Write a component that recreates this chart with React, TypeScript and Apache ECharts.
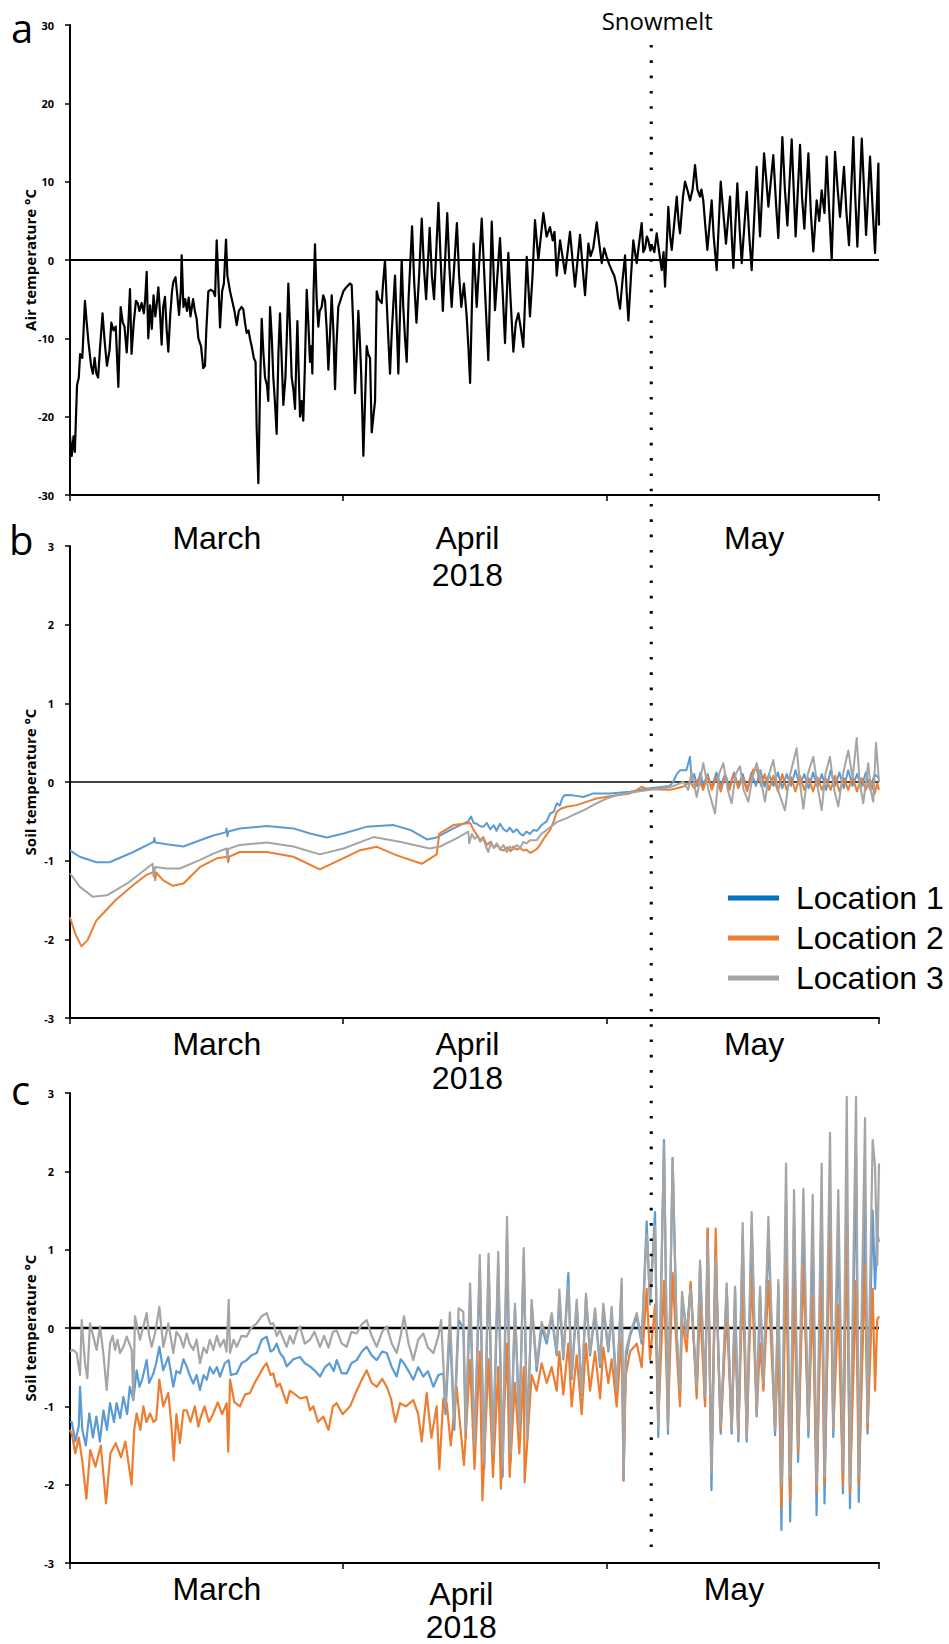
import React, { useEffect, useRef } from "react";
import * as echarts from "echarts";

// ---------- axis / label data ----------
const DAY_MIN = 0;
const DAY_MAX = 92; // 1 March .. 1 June 2018 (days since 1 March)
const MONTH_TICKS = [0, 31, 61, 92];
const MONTH_LABELS = ["March", "April\n2018", "May"];
const MONTH_LABEL_POS_AB = [16.7, 45.2, 77.8];
const MONTH_LABEL_POS_C = [16.7, 44.5, 75.5];
const SNOWMELT_DAY = 66.1;
const AIR_RANGE = [-30, 30, 10];
const SOIL_RANGE = [-3, 3, 1];
const LOCATIONS = ["Location 1", "Location 2", "Location 3"];
const LOC_COLORS = ["#5B9BD5", "#ED7D31", "#A5A5A5"];
const LEGEND_COLORS = ["#0070C0", "#ED7D31", "#A5A5A5"];

// ---------- panel a: air temperature [day, °C] ----------
const AIR_TEMP: [number, number][] = [
[0.0,-22.5],[0.2,-25.0],[0.4,-22.5],[0.55,-24.5],[0.8,-16],[1.0,-15],[1.15,-12],[1.4,-12.5],[1.7,-5.2],[1.9,-8],[2.1,-10.5],[2.4,-13.5],[2.6,-14.5],[2.8,-12.5],[3.0,-14.5],[3.2,-15],[3.4,-11.5],[3.7,-6.8],[3.95,-10.5],[4.2,-13.5],[4.5,-11.5],[4.7,-8],[4.95,-9],[5.2,-8.5],[5.5,-16.2],[5.76,-6],[6.0,-8],[6.2,-8.5],[6.45,-11.8],[6.6,-9],[6.82,-3.7],[7.0,-12],[7.25,-8],[7.5,-5.2],[7.7,-5.5],[7.9,-6.5],[8.15,-5.5],[8.4,-6.8],[8.55,-5],[8.72,-1.5],[8.9,-10],[9.1,-5.8],[9.3,-8.8],[9.5,-4.5],[9.7,-7.2],[9.85,-5.8],[10.05,-3.5],[10.25,-7],[10.42,-10.8],[10.6,-6],[10.8,-4.7],[11.0,-9],[11.18,-11.7],[11.4,-7],[11.6,-4],[11.75,-2.8],[12.0,-2.2],[12.2,-4.5],[12.4,-7],[12.6,-4],[12.7,0.6],[12.9,-6],[13.1,-5],[13.3,-6.5],[13.5,-4.8],[13.7,-7.2],[14.0,-5],[14.2,-6.5],[14.4,-7.5],[14.6,-10],[14.9,-11],[15.15,-13.8],[15.35,-13.5],[15.5,-9],[15.73,-4],[16.0,-3.8],[16.3,-4],[16.5,-4.6],[16.68,2.5],[16.85,-2],[17.06,-8.6],[17.3,-4],[17.5,-3],[17.74,2.6],[17.9,-2],[18.2,-4],[18.5,-5.5],[18.7,-6.5],[18.96,-8.3],[19.2,-6.5],[19.5,-6],[19.71,-6.3],[19.9,-8],[20.09,-9.3],[20.3,-9],[20.5,-10.2],[20.66,-11],[20.9,-12.5],[21.1,-13],[21.23,-21.5],[21.42,-28.5],[21.6,-17],[21.8,-7.5],[22.0,-12],[22.18,-15],[22.4,-16],[22.55,-18],[22.75,-6],[22.95,-10],[23.12,-15],[23.3,-18],[23.5,-22.2],[23.7,-12],[23.88,-6.8],[24.05,-12],[24.26,-18.5],[24.5,-15],[24.65,-10],[24.83,-3],[25.0,-8],[25.21,-15],[25.4,-16.5],[25.59,-19],[25.75,-12],[25.86,-7.8],[26.0,-14],[26.16,-20],[26.35,-18],[26.53,-20.5],[26.7,-14],[26.92,-3.8],[27.1,-8],[27.29,-13],[27.45,-11],[27.56,-14.5],[27.7,-4],[27.86,2.0],[28.05,-5],[28.24,-8.5],[28.4,-6.5],[28.62,-6],[28.8,-4.5],[29.0,-5.2],[29.2,-9],[29.38,-14],[29.55,-10],[29.76,-4.5],[29.95,-9],[30.14,-16.5],[30.3,-11],[30.51,-6],[30.8,-5],[31.08,-4],[31.4,-3.5],[31.84,-3],[32.03,-3.2],[32.2,-8],[32.41,-17],[32.6,-12],[32.79,-6.5],[32.95,-10],[33.1,-14],[33.25,-20],[33.36,-25],[33.5,-20],[33.74,-11],[33.9,-12],[34.12,-12.5],[34.31,-22],[34.5,-20],[34.69,-18],[34.88,-4],[35.1,-5],[35.45,-5.5],[35.6,-3],[35.82,0],[36.0,-5],[36.2,-10],[36.39,-14.5],[36.6,-9],[36.96,-2],[37.15,-8],[37.34,-14.5],[37.5,-8],[37.72,0],[37.9,-6],[38.1,-10],[38.29,-13],[38.5,-5],[38.9,4.3],[39.15,-3],[39.4,-8],[39.7,-2],[40.0,5.3],[40.25,-1],[40.5,-5],[40.9,4.1],[41.15,-2],[41.4,-5],[41.9,7.3],[42.15,0],[42.4,-6.5],[42.9,6.0],[43.15,-1],[43.4,-6],[44.0,4.7],[44.25,-2],[44.5,-6],[44.8,-3],[45.1,-7],[45.3,-11],[45.5,-15.7],[45.7,-6],[45.9,2.1],[46.25,-6],[46.82,5.3],[47.2,-4],[47.57,-12.8],[47.96,4.9],[48.33,-6.4],[48.9,2.8],[49.2,-4],[49.47,-10.6],[49.85,0.9],[50.1,-5],[50.42,-11.7],[50.7,-8],[50.99,-6.8],[51.3,-9],[51.55,-11.1],[51.94,0.4],[52.31,-7.2],[52.6,-2],[52.88,5.1],[53.26,0],[53.5,2.5],[53.83,6.0],[54.2,3],[54.59,4.2],[54.9,2.5],[55.1,3.6],[55.35,-2],[55.73,2.5],[56.0,0.5],[56.3,-1.7],[56.86,3.6],[57.15,0],[57.43,-3.4],[58.0,3.2],[58.3,-1],[58.57,-4.5],[58.95,2.1],[59.2,0.5],[59.5,1.5],[59.9,4.8],[60.2,2],[60.47,-0.4],[60.75,1.5],[61.03,0.4],[61.3,-0.5],[61.6,-1.3],[61.9,-2],[62.17,-3.4],[62.35,-5],[62.55,-6.2],[62.8,-3],[63.12,0.6],[63.3,-4],[63.5,-7.7],[63.8,-2],[64.06,2.5],[64.25,1],[64.45,-0.4],[64.7,2],[65.01,4.7],[65.2,1],[65.4,1.5],[65.6,3],[65.77,2.5],[66.0,1.2],[66.2,1.8],[66.45,1],[66.72,3.4],[67.0,1],[67.29,-1.3],[67.5,1],[67.67,-3.4],[68.04,6.8],[68.25,3],[68.43,1.3],[69.0,8.1],[69.2,5],[69.37,3.4],[69.7,8],[69.94,10.0],[70.2,9],[70.51,7.6],[70.8,9],[71.08,12.1],[71.35,9],[71.65,8.1],[71.8,9],[72.02,7.6],[72.2,5],[72.48,1.3],[72.97,7.6],[73.2,3],[73.54,-1.3],[74.0,10.0],[74.3,6],[74.6,2.1],[75.06,8.1],[75.25,3],[75.44,-1.0],[75.89,9.8],[76.15,4],[76.39,-0.4],[76.96,8.7],[77.25,3],[77.52,-1.3],[78.09,11.9],[78.47,3.0],[78.93,13.6],[79.2,10],[79.42,6.8],[79.98,13.4],[80.3,7],[80.55,2.8],[81.01,15.7],[81.3,9],[81.58,4.4],[82.07,15.4],[82.3,9],[82.52,3.0],[83.02,14.7],[83.25,8],[83.51,4.0],[83.97,13.6],[84.25,6],[84.53,1.1],[84.91,7.6],[85.2,5],[85.48,8.9],[85.8,6],[86.05,13.2],[86.35,6],[86.62,0.0],[87.0,13.8],[87.3,9],[87.57,5.5],[88.02,11.9],[88.3,6],[88.59,1.9],[89.08,15.7],[89.3,8],[89.54,1.7],[90.04,15.5],[90.3,9],[90.53,3.2],[90.98,13.2],[91.3,6],[91.55,0.9],[91.93,12.3],[92.0,4.4]
];

// ---------- panel b: soil temperature (deeper) [day, °C] ----------
const SOIL_B_L1: [number, number][] = [
[0,-0.87],[1.1,-0.95],[3.0,-1.02],[4.5,-1.02],[7.2,-0.89],[9.5,-0.76],[9.6,-0.71],[9.7,-0.77],[11,-0.79],[12.9,-0.82],[14.8,-0.74],[16.3,-0.68],[17.7,-0.64],[17.8,-0.59],[17.9,-0.69],[18.0,-0.63],[19.3,-0.59],[22.4,-0.56],[25.4,-0.59],[27.3,-0.655],[29.2,-0.705],[31.1,-0.655],[33.7,-0.57],[36.8,-0.548],[38.7,-0.61],[40.6,-0.73],[41.7,-0.705],[43.6,-0.59],[45.3,-0.5],[45.6,-0.44],[45.9,-0.52],[46.25,-0.53],[46.6,-0.56],[47.0,-0.57],[47.4,-0.52],[47.8,-0.6],[48.2,-0.55],[48.5,-0.62],[48.9,-0.53],[49.3,-0.6],[49.66,-0.63],[50.0,-0.58],[50.4,-0.64],[50.8,-0.6],[51.2,-0.66],[51.55,-0.68],[51.9,-0.63],[52.3,-0.66],[52.7,-0.61],[53.1,-0.62],[53.6,-0.55],[54.2,-0.5],[54.6,-0.4],[55.0,-0.38],[55.35,-0.27],[55.7,-0.3],[56.0,-0.2],[56.3,-0.166],[57.2,-0.17],[58.4,-0.19],[59.5,-0.145],[61.4,-0.145],[63.7,-0.123],[66.0,-0.08],[68.2,-0.05],[68.6,0.0],[69.0,0.1],[69.4,0.15],[70.1,0.15],[70.5,0.32],[70.7,0.03],[71.0,0.1],[71.3,-0.05],[71.7,0.12],[72.0,-0.05],[72.5,0.1],[73.0,-0.08],[73.5,0.12],[74.0,-0.05],[74.5,0.1],[75.0,-0.06],[75.5,0.12],[76.0,-0.05],[76.5,0.1],[77.0,-0.1],[77.5,0.12],[78.0,-0.05],[78.5,0.15],[79.0,-0.06],[79.5,0.1],[80.0,-0.05],[80.5,0.12],[81.0,-0.08],[81.5,0.1],[82.0,-0.05],[82.5,0.15],[83.0,-0.04],[83.5,0.1],[84.0,-0.08],[84.5,0.12],[85.0,-0.06],[85.5,0.1],[86.0,-0.1],[86.5,0.15],[87.0,-0.05],[87.5,0.12],[88.0,-0.08],[88.5,0.15],[89.0,-0.05],[89.5,0.1],[90.0,-0.06],[90.5,0.12],[91.0,-0.1],[91.5,0.1],[92.0,0.05]
];
const SOIL_B_L2: [number, number][] = [
[0,-1.72],[0.6,-1.93],[1.3,-2.09],[2.0,-2.01],[3.0,-1.76],[5.2,-1.5],[7.2,-1.31],[8.7,-1.18],[9.6,-1.14],[9.7,-1.25],[9.8,-1.15],[10.6,-1.25],[11.7,-1.32],[12.9,-1.29],[14.8,-1.08],[16.7,-0.97],[17.9,-0.95],[18.0,-1.02],[18.1,-0.95],[19.3,-0.89],[22.4,-0.89],[25.4,-0.95],[28.4,-1.11],[30.7,-0.99],[33.0,-0.867],[34.9,-0.824],[37.1,-0.93],[40.0,-1.04],[41.7,-0.92],[42.0,-0.655],[43.6,-0.548],[45.5,-0.52],[45.9,-0.61],[46.2,-0.66],[46.6,-0.74],[47.0,-0.7],[47.4,-0.8],[47.8,-0.76],[48.2,-0.84],[48.6,-0.8],[49.0,-0.86],[49.3,-0.87],[49.7,-0.83],[50.1,-0.88],[50.4,-0.82],[50.8,-0.86],[51.2,-0.84],[51.55,-0.87],[51.9,-0.86],[52.3,-0.9],[52.7,-0.88],[53.1,-0.85],[53.45,-0.8],[54.0,-0.7],[54.6,-0.61],[55.0,-0.5],[55.35,-0.38],[55.8,-0.34],[56.5,-0.315],[57.6,-0.294],[58.8,-0.25],[59.9,-0.21],[61.4,-0.18],[63.7,-0.145],[64.5,-0.1],[65.0,-0.06],[65.4,-0.08],[66.0,-0.093],[68.2,-0.1],[69.7,-0.06],[70.5,0],[71.0,-0.08],[71.5,0.05],[72.0,-0.1],[72.5,0.08],[73.0,-0.1],[73.5,0.06],[74.0,-0.12],[74.5,0.08],[75.0,-0.1],[75.5,0.1],[76.0,-0.08],[76.5,0.06],[77.0,-0.12],[77.7,0.16],[78.1,0.16],[78.6,-0.05],[79.0,0.1],[79.5,-0.1],[80.0,0.08],[80.5,-0.12],[81.0,0.1],[81.5,-0.1],[82.0,0.06],[82.5,-0.12],[83.0,0.08],[83.5,-0.1],[84.0,0.05],[84.5,-0.12],[85.0,0.06],[85.5,-0.1],[86.0,0.04],[86.5,-0.1],[87.0,0.08],[87.5,-0.12],[88.0,0.05],[88.5,-0.1],[89.0,0.06],[89.5,-0.12],[90.0,0.05],[90.5,-0.1],[91.0,0.03],[91.5,-0.15],[91.8,-0.02],[92.0,-0.1]
];
const SOIL_B_L3: [number, number][] = [
[0,-1.16],[1.1,-1.33],[2.6,-1.46],[4.2,-1.44],[6.5,-1.29],[8.0,-1.16],[9.4,-1.04],[9.5,-1.2],[9.7,-1.08],[11.0,-1.1],[12.5,-1.1],[14.8,-0.99],[16.3,-0.91],[17.8,-0.845],[17.9,-0.98],[18.0,-0.85],[19.3,-0.8],[22.4,-0.77],[25.4,-0.82],[28.4,-0.92],[31.1,-0.845],[34.5,-0.7],[37.5,-0.76],[40.9,-0.845],[42.1,-0.82],[43.9,-0.72],[45.3,-0.63],[45.4,-0.78],[45.7,-0.66],[46.0,-0.72],[46.4,-0.68],[46.63,-0.76],[47.0,-0.72],[47.3,-0.82],[47.57,-0.89],[47.9,-0.76],[48.2,-0.84],[48.52,-0.78],[48.9,-0.86],[49.3,-0.8],[49.66,-0.89],[50.0,-0.82],[50.4,-0.86],[50.8,-0.8],[51.2,-0.84],[51.55,-0.76],[51.93,-0.78],[52.3,-0.74],[53.07,-0.74],[53.6,-0.66],[54.21,-0.61],[55.35,-0.51],[56.48,-0.46],[57.62,-0.4],[58.76,-0.34],[59.9,-0.27],[61.03,-0.21],[62.17,-0.166],[63.68,-0.136],[65.96,-0.1],[68.23,-0.068],[69.75,0],[70.3,-0.1],[70.7,0.12],[71.27,-0.19],[72.02,0.24],[72.6,-0.1],[73.35,-0.4],[73.8,0.1],[74.3,0.24],[74.8,-0.1],[75.24,-0.27],[75.7,0.1],[76.19,0.2],[76.6,-0.1],[77.14,-0.25],[77.6,0.05],[78.09,0.24],[78.6,0],[79.03,-0.25],[79.5,0.1],[79.98,0.28],[80.5,-0.1],[81.3,-0.36],[81.8,0.05],[82.63,0.43],[83.0,0.0],[83.39,-0.34],[83.9,0.1],[84.53,0.32],[85.0,-0.05],[85.48,-0.36],[85.9,0.1],[86.42,0.32],[86.9,-0.1],[87.37,-0.31],[87.9,0.1],[88.51,0.4],[89.0,0.05],[89.46,0.56],[89.8,0.0],[90.21,-0.27],[90.78,0.24],[91.05,-0.1],[91.35,-0.25],[91.66,0.5],[92.0,0.0]
];

// ---------- panel c: soil temperature (surface) [day, °C] ----------
const SOIL_C_L1: [number, number][] = [
[0.0,-1.2],[0.2,-1.2],[0.6,-1.45],[1.0,-1.25],[1.14,-0.75],[1.4,-1.3],[1.8,-1.5],[2.2,-1.09],[2.6,-1.4],[3.0,-1.13],[3.4,-1.45],[3.8,-1.05],[4.2,-1.3],[4.55,-0.96],[5.0,-1.2],[5.3,-0.96],[5.7,-1.15],[6.07,-0.88],[6.5,-1.1],[6.8,-0.75],[7.2,-0.92],[7.58,-0.54],[7.9,-0.75],[8.2,-0.66],[8.72,-0.41],[9.0,-0.7],[9.48,-0.58],[9.8,-0.45],[10.16,-0.24],[10.6,-0.54],[11.18,-0.37],[11.75,-0.75],[12.1,-0.55],[12.51,-0.58],[12.9,-0.4],[13.27,-0.49],[13.6,-0.6],[14.02,-0.71],[14.4,-0.6],[14.78,-0.79],[15.2,-0.6],[15.55,-0.66],[15.9,-0.5],[16.3,-0.58],[16.7,-0.5],[17.06,-0.62],[17.6,-0.45],[18.05,-0.41],[18.3,-0.6],[18.96,-0.58],[19.5,-0.45],[20.09,-0.41],[20.6,-0.35],[21.23,-0.32],[21.8,-0.15],[22.37,-0.11],[22.8,-0.3],[23.12,-0.28],[23.5,-0.2],[23.88,-0.32],[24.3,-0.38],[24.64,-0.49],[25.4,-0.4],[26.16,-0.37],[26.7,-0.45],[27.29,-0.49],[27.9,-0.55],[28.43,-0.62],[29.0,-0.5],[29.5,-0.45],[30.0,-0.55],[30.33,-0.41],[30.9,-0.58],[31.47,-0.58],[32.0,-0.45],[32.6,-0.41],[33.2,-0.3],[33.74,-0.24],[34.3,-0.35],[34.88,-0.41],[35.5,-0.3],[36.02,-0.32],[36.6,-0.5],[37.15,-0.62],[37.6,-0.4],[37.98,-0.45],[38.5,-0.55],[39.04,-0.66],[39.6,-0.5],[40.18,-0.62],[40.7,-0.55],[41.32,-0.75],[41.9,-0.6],[42.46,-0.58],[42.7,-1.1],[43.2,0.0],[43.7,-1.3],[44.2,0.1],[44.73,0.0],[45.0,-1.4],[45.5,0.4],[46.0,-1.6],[46.6,0.75],[47.1,-1.8],[47.6,0.8],[48.1,-1.7],[48.7,0.8],[49.2,-1.9],[49.7,1.2],[50.1,-1.7],[50.6,0.25],[51.1,-1.2],[51.6,0.9],[52.0,-1.4],[52.5,0.3],[53.07,-0.55],[53.64,0.0],[54.21,-0.2],[54.78,0.15],[55.35,-0.35],[55.65,0.4],[56.1,-0.4],[56.67,0.7],[57.05,-0.65],[57.62,0.3],[58.19,-0.85],[58.68,0.4],[59.14,-0.35],[59.71,0.2],[60.28,-0.5],[60.65,0.25],[61.22,-0.3],[61.6,0.2],[62.17,-0.85],[62.74,0.55],[62.95,-1.95],[63.2,-0.4],[63.69,-0.1],[64.45,0.15],[65.01,-0.2],[65.58,1.36],[65.96,0.3],[66.53,1.48],[66.9,-1.39],[67.55,2.4],[68.0,-1.35],[68.53,2.17],[69.0,-0.1],[69.37,-0.85],[69.6,0.4],[70.13,-0.1],[70.58,0.55],[71.27,-0.8],[71.65,0.8],[72.22,-0.95],[72.52,1.27],[72.95,-2.07],[73.43,1.0],[73.73,-0.3],[74.0,-1.35],[74.68,0.5],[75.25,-1.35],[75.63,0.5],[76.0,-1.45],[76.5,1.2],[76.96,-1.45],[77.52,1.3],[78.09,-1.13],[78.47,0.45],[78.85,-0.75],[79.42,1.2],[80.18,-1.37],[80.55,0.55],[80.9,-2.58],[81.43,1.6],[81.9,-2.47],[82.34,1.3],[82.8,-1.71],[83.4,1.2],[83.97,-1.39],[84.46,1.3],[84.9,-2.39],[85.48,1.7],[85.8,-2.24],[86.43,1.6],[86.8,-1.39],[87.37,1.2],[87.9,-2.11],[88.33,1.8],[88.7,-2.3],[89.39,2.2],[89.7,-2.22],[90.41,1.6],[90.7,-1.35],[91.28,1.5],[91.55,0.5],[91.8,1.2],[92.0,1.1]
];
const SOIL_C_L2: [number, number][] = [
[0.0,-1.3],[0.2,-1.35],[0.6,-1.6],[1.0,-1.4],[1.4,-1.7],[1.86,-2.18],[2.3,-1.56],[2.9,-1.77],[3.5,-1.5],[4.1,-2.24],[4.6,-1.6],[5.2,-1.47],[5.8,-1.65],[6.3,-1.45],[7.0,-2.0],[7.3,-1.3],[7.58,-1.09],[8.0,-1.3],[8.34,-1.0],[8.7,-1.2],[9.1,-1.09],[9.5,-1.2],[9.8,-1.17],[10.16,-0.66],[10.6,-1.0],[11.18,-0.83],[11.5,-1.2],[11.8,-1.69],[12.1,-1.1],[12.5,-1.47],[12.9,-1.05],[13.27,-1.05],[13.7,-1.2],[14.2,-1.0],[14.6,-1.26],[14.78,-1.17],[15.3,-1.0],[15.8,-1.2],[16.3,-1.09],[16.8,-0.95],[17.3,-1.1],[17.82,-0.96],[18.0,-1.58],[18.2,-0.66],[18.7,-0.95],[19.33,-1.0],[19.9,-0.85],[20.47,-0.83],[21.0,-0.7],[21.61,-0.58],[22.0,-0.5],[22.37,-0.45],[22.8,-0.6],[23.12,-0.58],[23.5,-0.75],[23.88,-0.71],[24.3,-0.85],[24.64,-0.96],[25.0,-0.8],[25.4,-0.83],[26.2,-0.9],[26.92,-0.88],[27.3,-1.05],[27.67,-1.0],[28.2,-1.2],[28.81,-1.13],[29.4,-1.3],[29.9,-1.0],[30.33,-0.96],[31.0,-1.1],[31.85,-1.0],[32.6,-0.8],[33.36,-0.62],[33.74,-0.54],[34.3,-0.7],[34.88,-0.75],[35.5,-0.65],[36.02,-0.75],[36.5,-0.9],[37.0,-1.2],[37.53,-0.96],[38.2,-1.0],[39.04,-0.92],[39.6,-1.1],[40.0,-1.45],[40.56,-0.83],[41.1,-1.4],[41.7,-1.0],[42.0,-1.8],[42.46,-0.9],[42.84,-0.96],[43.3,-1.5],[43.97,-0.75],[44.5,-1.4],[44.8,-1.75],[45.5,-0.41],[46.0,-1.8],[46.6,-0.3],[46.9,-2.2],[47.6,-0.4],[48.1,-1.9],[48.7,-0.5],[49.0,-2.05],[49.7,-0.2],[50.0,-1.9],[50.6,-0.7],[51.1,-1.6],[51.6,-0.5],[51.7,-1.97],[52.5,-0.6],[53.07,-0.8],[53.64,-0.45],[54.21,-0.7],[54.78,-0.5],[55.35,-0.8],[55.65,-0.3],[56.1,-0.85],[56.67,-0.2],[57.05,-1.0],[57.62,-0.35],[58.19,-1.1],[58.68,-0.2],[59.14,-0.8],[59.71,-0.3],[60.28,-0.9],[60.65,-0.25],[61.22,-0.7],[61.6,-0.4],[62.17,-1.0],[62.74,-0.1],[62.95,-1.94],[63.2,-0.6],[63.69,-0.3],[64.45,-0.2],[65.01,-0.5],[65.58,0.5],[65.96,-0.4],[66.53,0.3],[66.9,-1.2],[67.55,0.6],[68.0,-1.2],[68.53,0.7],[69.0,-0.3],[69.37,-1.0],[69.6,0.1],[70.13,-0.3],[70.58,0.59],[71.27,-0.9],[71.65,0.3],[72.22,-1.0],[72.52,1.27],[72.95,-1.8],[73.43,1.27],[73.73,-0.4],[74.0,-1.3],[74.68,0.2],[75.25,-1.3],[75.63,0.1],[76.0,-1.4],[76.5,0.6],[76.96,-1.4],[77.52,0.7],[78.09,-1.1],[78.47,-0.2],[78.85,-0.8],[79.42,0.6],[80.18,-1.3],[80.55,-0.2],[80.9,-2.3],[81.43,0.9],[81.9,-2.2],[82.34,0.5],[82.8,-1.6],[83.4,0.8],[83.97,-1.3],[84.46,0.4],[84.9,-2.1],[85.48,0.6],[85.8,-2.0],[86.43,1.2],[86.8,-1.3],[87.37,0.3],[87.9,-2.0],[88.33,1.3],[88.7,-2.1],[89.39,0.6],[89.7,-2.0],[90.41,0.8],[90.7,-1.3],[91.28,0.5],[91.55,-0.8],[91.8,0.1],[92.0,0.15]
];
const SOIL_C_L3: [number, number][] = [
[0.0,-0.3],[0.38,-0.28],[0.76,-0.32],[1.14,-0.6],[1.33,0.1],[1.71,-0.45],[1.97,-0.64],[2.27,0.06],[2.65,-0.11],[3.03,-0.28],[3.41,0.02],[3.79,-0.32],[4.17,-0.79],[4.55,-0.2],[4.85,-0.1],[5.12,-0.28],[5.4,-0.15],[5.69,-0.32],[6.07,-0.24],[6.45,-0.11],[6.75,-0.2],[7.01,-0.28],[7.2,-0.9],[7.39,0.15],[7.96,-0.15],[8.3,0.0],[8.72,0.19],[9.0,-0.1],[9.29,-0.24],[9.7,-0.05],[10.16,0.27],[10.61,-0.24],[10.9,-0.1],[11.18,0.06],[11.5,-0.15],[11.75,-0.32],[12.1,-0.05],[12.51,-0.11],[12.9,-0.25],[13.27,-0.07],[13.6,-0.2],[14.02,-0.28],[14.4,-0.15],[14.78,-0.45],[15.2,-0.25],[15.55,-0.32],[15.9,-0.15],[16.3,-0.28],[16.7,-0.1],[17.06,-0.24],[17.5,-0.15],[17.8,-0.3],[18.05,0.36],[18.2,-0.32],[18.6,-0.15],[18.96,-0.24],[19.5,-0.1],[20.09,-0.11],[20.6,0.0],[21.23,0.06],[21.8,0.15],[22.37,0.19],[22.8,0.05],[23.12,0.06],[23.5,-0.1],[23.88,-0.03],[24.3,-0.15],[24.64,-0.24],[25.0,-0.1],[25.4,-0.2],[25.8,-0.05],[26.16,0.02],[26.7,-0.2],[27.29,-0.15],[27.8,-0.05],[28.43,-0.24],[28.9,-0.1],[29.4,-0.25],[29.9,-0.05],[30.33,-0.03],[30.9,-0.2],[31.47,-0.24],[32.0,-0.05],[32.6,-0.07],[33.2,0.05],[33.74,0.1],[34.3,-0.1],[34.88,-0.24],[35.5,-0.05],[36.02,0.02],[36.6,-0.2],[37.15,-0.32],[37.6,-0.1],[37.98,0.15],[38.5,-0.2],[39.04,-0.41],[39.6,-0.15],[40.18,-0.07],[40.7,-0.25],[41.32,-0.32],[41.9,-0.1],[42.2,0.1],[42.7,-1.0],[43.2,0.2],[43.7,-1.2],[44.2,0.25],[44.73,0.21],[45.0,-1.3],[45.5,0.57],[46.0,-1.5],[46.6,0.93],[47.1,-1.7],[47.6,0.95],[48.1,-1.6],[48.7,0.97],[49.2,-1.8],[49.7,1.42],[50.1,-1.6],[50.6,0.31],[51.1,-1.3],[51.6,1.02],[52.0,-1.4],[52.5,0.36],[53.07,-0.49],[53.64,0.08],[54.21,-0.15],[54.78,0.19],[55.35,-0.32],[55.65,0.49],[56.1,-0.37],[56.67,0.55],[57.05,-0.62],[57.62,0.36],[58.19,-0.83],[58.68,0.44],[59.14,-0.32],[59.71,0.25],[60.28,-0.45],[60.65,0.31],[61.22,-0.28],[61.6,0.27],[62.17,-0.79],[62.74,0.63],[62.95,-1.9],[63.2,-0.3],[63.69,-0.07],[64.45,0.19],[65.01,-0.15],[65.58,1.2],[65.96,0.36],[66.53,1.3],[66.9,-1.3],[67.55,2.35],[68.0,-1.3],[68.53,2.17],[69.0,-0.07],[69.37,-0.79],[69.6,0.46],[70.13,-0.07],[70.58,0.5],[71.27,-0.75],[71.65,0.86],[72.22,-0.88],[72.52,1.1],[72.95,-1.85],[73.43,0.9],[73.73,-0.28],[74.0,-1.25],[74.68,0.57],[75.25,-1.3],[75.63,0.53],[76.0,-1.4],[76.5,1.34],[76.96,-1.4],[77.52,1.48],[78.09,-1.1],[78.47,0.53],[78.85,-0.71],[79.42,1.42],[80.18,-1.3],[80.55,0.61],[80.9,-2.0],[81.43,2.1],[81.9,-1.9],[82.34,1.76],[82.8,-1.5],[83.4,1.78],[83.97,-1.3],[84.46,1.7],[84.9,-2.0],[85.48,2.1],[85.8,-1.9],[86.43,2.49],[86.8,-1.3],[87.37,1.76],[87.9,-1.8],[88.33,2.95],[88.7,-2.0],[89.39,2.95],[89.7,-1.9],[90.41,2.68],[90.7,-1.2],[91.28,2.4],[91.55,2.06],[91.8,0.8],[92.0,2.1]
];
const ZERO_LINE: [number, number][] = [[DAY_MIN, 0], [DAY_MAX, 0]];

const FONT_LABEL = "Liberation Sans, Arial, sans-serif";
const FONT_AXIS = "Open Sans, Noto Sans, sans-serif";

function xAxisFor(gridIndex: number, pos: number[], labels: string[], margin: number, lineHeight: number, showLine = true) {
  return {
    type: "value",
    gridIndex,
    position: "bottom",
    offset: 0,
    min: DAY_MIN,
    max: DAY_MAX,
    splitLine: { show: false },
    axisLine: { show: showLine, onZero: false, lineStyle: { color: "#000", width: 2 } },
    axisTick: { show: showLine, customValues: MONTH_TICKS, length: 6, lineStyle: { color: "#000", width: 1.5 } },
    axisLabel: {
      show: true,
      customValues: pos,
      formatter: (v: number) => {
        const i = pos.findIndex((p) => Math.abs(p - v) < 1e-6);
        return i >= 0 ? labels[i] : "";
      },
      fontFamily: FONT_LABEL,
      fontSize: 32,
      color: "#000",
      margin,
      lineHeight,
      align: "center",
      verticalAlign: "top",
    },
  };
}

function yAxisFor(gridIndex: number, range: number[], name: string) {
  return {
    type: "value",
    gridIndex,
    min: range[0],
    max: range[1],
    interval: range[2],
    splitLine: { show: false },
    axisLine: { show: true, onZero: false, lineStyle: { color: "#000", width: 2 } },
    axisTick: { show: true, length: 5, lineStyle: { color: "#000", width: 1.5 } },
    axisLabel: { fontFamily: FONT_AXIS, fontWeight: "bold", fontSize: 11, color: "#000", margin: 16 },
    name,
    nameLocation: "middle",
    nameGap: 33,
    nameMoveOverlap: false,
    nameTextStyle: { fontFamily: FONT_AXIS, fontWeight: "bold", fontSize: 15, color: "#000" },
  };
}

function lineSeries(name: string, idx: number, data: [number, number][], color: string, width: number, z: number) {
  return {
    type: "line",
    name,
    xAxisIndex: idx,
    yAxisIndex: idx,
    data,
    showSymbol: false,
    symbol: "none",
    silent: true,
    clip: true,
    z,
    lineStyle: { color, width, join: "round" },
  };
}

export default function App() {
  const ref = useRef<HTMLDivElement>(null);
  useEffect(() => {
    const el = ref.current;
    if (!el) return;
    const chart = echarts.init(el, null, { renderer: "svg" });
    const option: any = {
      animation: false,
      backgroundColor: "#fff",
      grid: [
        { left: 70, top: 25, width: 809, height: 470, outerBoundsMode: "none", containLabel: false },
        { left: 70, top: 546, width: 809, height: 472, outerBoundsMode: "none", containLabel: false },
        { left: 70, top: 1093, width: 809, height: 470, outerBoundsMode: "none", containLabel: false },
      ],
      xAxis: [
        xAxisFor(0, MONTH_LABEL_POS_AB, MONTH_LABELS, 24, 37),
        xAxisFor(1, MONTH_LABEL_POS_AB, MONTH_LABELS, 9, 34),
        xAxisFor(2, [MONTH_LABEL_POS_C[0], MONTH_LABEL_POS_C[2]], [MONTH_LABELS[0], MONTH_LABELS[2]], 8, 36),
        xAxisFor(2, [MONTH_LABEL_POS_C[1]], [MONTH_LABELS[1]], 14, 33, false),
      ],
      yAxis: [
        yAxisFor(0, AIR_RANGE, "Air temperature °C"),
        yAxisFor(1, SOIL_RANGE, "Soil temperature °C"),
        yAxisFor(2, SOIL_RANGE, "Soil temperature °C"),
      ],
      series: [
        lineSeries("zero a", 0, ZERO_LINE, "#000", 2, 1),
        lineSeries("Air temperature", 0, AIR_TEMP, "#000", 2.2, 2),
        lineSeries("zero b", 1, ZERO_LINE, "#000", 1.5, 1),
        lineSeries(LOCATIONS[0], 1, SOIL_B_L1, LOC_COLORS[0], 2, 2),
        lineSeries(LOCATIONS[1], 1, SOIL_B_L2, LOC_COLORS[1], 2, 2),
        lineSeries(LOCATIONS[2], 1, SOIL_B_L3, LOC_COLORS[2], 2, 2),
        lineSeries("zero c", 2, ZERO_LINE, "#000", 2.5, 1),
        lineSeries(LOCATIONS[0], 2, SOIL_C_L1, LOC_COLORS[0], 2.2, 2),
        lineSeries(LOCATIONS[1], 2, SOIL_C_L2, LOC_COLORS[1], 2.2, 2),
        lineSeries(LOCATIONS[2], 2, SOIL_C_L3, LOC_COLORS[2], 2.2, 2),
      ],
    };
    chart.setOption(option);

    const sx = chart.convertToPixel({ xAxisIndex: 0 }, SNOWMELT_DAY) as number;
    const legend = LOCATIONS.map((name, i) => ({
      type: "group",
      x: 728,
      y: 898 + i * 40,
      children: [
        { type: "line", shape: { x1: 0, y1: 0, x2: 51, y2: 0 }, style: { stroke: LEGEND_COLORS[i], lineWidth: 5 } },
        { type: "text", x: 68, y: 0, style: { text: name, fontFamily: FONT_LABEL, fontSize: 32, fill: "#000", verticalAlign: "middle", align: "left" } },
      ],
    }));
    chart.setOption({
      graphic: [
        { type: "line", z: 50, shape: { x1: sx, y1: 45, x2: sx, y2: 1558 }, style: { stroke: "#000", lineWidth: 3, lineDash: [2.6, 12.7] } },
        { type: "text", z: 50, x: sx + 6, y: 32, style: { text: "Snowmelt", fontFamily: FONT_AXIS, fontSize: 24, fill: "#000", align: "center", verticalAlign: "bottom" } },
        { type: "text", z: 50, x: 11, y: 7, style: { text: "a", fontFamily: FONT_AXIS, fontSize: 40, fill: "#000", verticalAlign: "top" } },
        { type: "text", z: 50, x: 9, y: 519, style: { text: "b", fontFamily: FONT_AXIS, fontSize: 40, fill: "#000", verticalAlign: "top" } },
        { type: "text", z: 50, x: 11, y: 1069, style: { text: "c", fontFamily: FONT_AXIS, fontSize: 40, fill: "#000", verticalAlign: "top" } },
        ...legend,
      ],
    });
    return () => chart.dispose();
  }, []);
  return <div ref={ref} style={{ position: "absolute", left: 0, top: 0, width: 949, height: 1644 }} />;
}
